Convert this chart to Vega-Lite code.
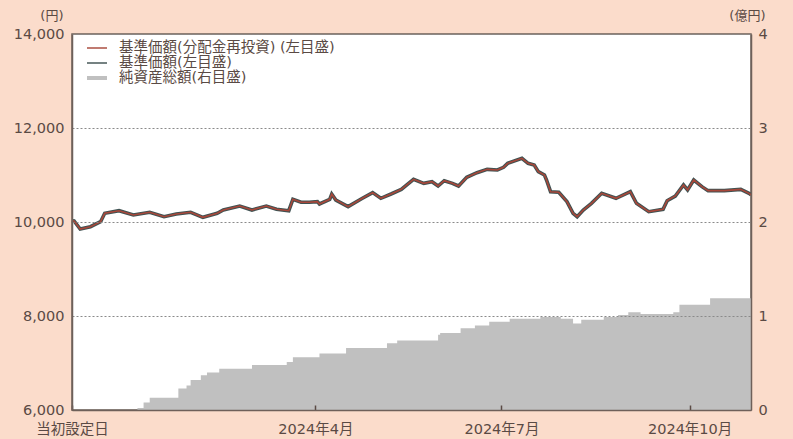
{
  "$schema": "https://vega.github.io/schema/vega-lite/v6.json",
  "width": 679,
  "height": 376,
  "autosize": {"type": "none"},
  "padding": {"left": 72, "top": 34, "right": 42, "bottom": 29},
  "background": "#fbdccb",
  "config": {
    "font": "DejaVu Sans, Noto Sans CJK JP",
    "view": {"fill": "#ffffff", "stroke": "#6e605a", "strokeWidth": 1.5},
    "axis": {
      "labelColor": "#5a4a44",
      "labelFontSize": 14.5,
      "labelFont": "DejaVu Sans, Noto Sans CJK JP",
      "titleColor": "#5a4a44",
      "titleFontSize": 13,
      "titleFont": "DejaVu Sans, Noto Sans CJK JP",
      "titleFontWeight": "normal",
      "domainColor": "#6e605a",
      "domainWidth": 1.5,
      "tickColor": "#5a4a44"
    }
  },
  "datasets": {
    "nav": [
      {"date": "2023-12-04", "nav": 10028},
      {"date": "2023-12-05", "nav": 10021},
      {"date": "2023-12-08", "nav": 9851},
      {"date": "2023-12-13", "nav": 9900},
      {"date": "2023-12-18", "nav": 10007},
      {"date": "2023-12-20", "nav": 10185},
      {"date": "2023-12-27", "nav": 10240},
      {"date": "2024-01-03", "nav": 10149},
      {"date": "2024-01-11", "nav": 10206},
      {"date": "2024-01-18", "nav": 10113},
      {"date": "2024-01-24", "nav": 10170},
      {"date": "2024-01-31", "nav": 10206},
      {"date": "2024-02-06", "nav": 10100},
      {"date": "2024-02-13", "nav": 10185},
      {"date": "2024-02-16", "nav": 10255},
      {"date": "2024-02-24", "nav": 10340},
      {"date": "2024-03-01", "nav": 10255},
      {"date": "2024-03-08", "nav": 10340},
      {"date": "2024-03-13", "nav": 10270},
      {"date": "2024-03-19", "nav": 10240},
      {"date": "2024-03-21", "nav": 10483},
      {"date": "2024-03-25", "nav": 10419},
      {"date": "2024-03-29", "nav": 10419},
      {"date": "2024-04-02", "nav": 10433},
      {"date": "2024-04-03", "nav": 10383},
      {"date": "2024-04-08", "nav": 10483},
      {"date": "2024-04-09", "nav": 10596},
      {"date": "2024-04-11", "nav": 10468},
      {"date": "2024-04-17", "nav": 10326},
      {"date": "2024-04-24", "nav": 10504},
      {"date": "2024-04-29", "nav": 10625},
      {"date": "2024-05-03", "nav": 10504},
      {"date": "2024-05-08", "nav": 10596},
      {"date": "2024-05-13", "nav": 10695},
      {"date": "2024-05-19", "nav": 10908},
      {"date": "2024-05-24", "nav": 10823},
      {"date": "2024-05-28", "nav": 10858},
      {"date": "2024-05-31", "nav": 10766},
      {"date": "2024-06-03", "nav": 10879},
      {"date": "2024-06-07", "nav": 10823},
      {"date": "2024-06-10", "nav": 10766},
      {"date": "2024-06-14", "nav": 10950},
      {"date": "2024-06-19", "nav": 11049},
      {"date": "2024-06-24", "nav": 11120},
      {"date": "2024-06-29", "nav": 11106},
      {"date": "2024-07-02", "nav": 11163},
      {"date": "2024-07-04", "nav": 11248},
      {"date": "2024-07-11", "nav": 11355},
      {"date": "2024-07-14", "nav": 11248},
      {"date": "2024-07-17", "nav": 11213},
      {"date": "2024-07-19", "nav": 11071},
      {"date": "2024-07-22", "nav": 11000},
      {"date": "2024-07-23", "nav": 10894},
      {"date": "2024-07-25", "nav": 10645},
      {"date": "2024-07-29", "nav": 10632},
      {"date": "2024-08-02", "nav": 10433},
      {"date": "2024-08-05", "nav": 10185},
      {"date": "2024-08-07", "nav": 10113},
      {"date": "2024-08-10", "nav": 10255},
      {"date": "2024-08-14", "nav": 10397},
      {"date": "2024-08-19", "nav": 10610},
      {"date": "2024-08-26", "nav": 10504},
      {"date": "2024-09-02", "nav": 10645},
      {"date": "2024-09-05", "nav": 10397},
      {"date": "2024-09-11", "nav": 10220},
      {"date": "2024-09-18", "nav": 10270},
      {"date": "2024-09-20", "nav": 10454},
      {"date": "2024-09-24", "nav": 10553},
      {"date": "2024-09-28", "nav": 10787},
      {"date": "2024-09-30", "nav": 10681},
      {"date": "2024-10-03", "nav": 10894},
      {"date": "2024-10-07", "nav": 10752},
      {"date": "2024-10-10", "nav": 10667},
      {"date": "2024-10-18", "nav": 10667},
      {"date": "2024-10-26", "nav": 10695},
      {"date": "2024-10-30", "nav": 10610},
      {"date": "2024-10-31", "nav": 10580}
    ],
    "assets": [
      {"date": "2023-12-04", "assets": 0},
      {"date": "2024-01-05", "assets": 0.02},
      {"date": "2024-01-08", "assets": 0.08},
      {"date": "2024-01-11", "assets": 0.13},
      {"date": "2024-01-25", "assets": 0.23},
      {"date": "2024-01-29", "assets": 0.26},
      {"date": "2024-01-31", "assets": 0.32},
      {"date": "2024-02-05", "assets": 0.37},
      {"date": "2024-02-08", "assets": 0.40},
      {"date": "2024-02-14", "assets": 0.44},
      {"date": "2024-03-01", "assets": 0.48},
      {"date": "2024-03-18", "assets": 0.51},
      {"date": "2024-03-21", "assets": 0.56},
      {"date": "2024-04-03", "assets": 0.60},
      {"date": "2024-04-16", "assets": 0.66},
      {"date": "2024-05-06", "assets": 0.71},
      {"date": "2024-05-11", "assets": 0.74},
      {"date": "2024-05-31", "assets": 0.80},
      {"date": "2024-06-01", "assets": 0.82},
      {"date": "2024-06-11", "assets": 0.87},
      {"date": "2024-06-18", "assets": 0.90},
      {"date": "2024-06-25", "assets": 0.94},
      {"date": "2024-07-05", "assets": 0.97},
      {"date": "2024-07-20", "assets": 0.99},
      {"date": "2024-07-30", "assets": 0.97},
      {"date": "2024-08-05", "assets": 0.92},
      {"date": "2024-08-09", "assets": 0.96},
      {"date": "2024-08-20", "assets": 0.99},
      {"date": "2024-08-27", "assets": 1.01},
      {"date": "2024-09-01", "assets": 1.04},
      {"date": "2024-09-07", "assets": 1.02},
      {"date": "2024-09-23", "assets": 1.04},
      {"date": "2024-09-26", "assets": 1.12},
      {"date": "2024-10-11", "assets": 1.19},
      {"date": "2024-10-31", "assets": 1.19}
    ]
  },
  "layer": [
    {
      "data": {"name": "assets"},
      "mark": {"type": "area", "interpolate": "step-after", "opacity": 1},
      "encoding": {
        "x": {
          "field": "date",
          "type": "temporal",
          "scale": {"type": "utc", "domain": [{"year": 2023, "month": 12, "date": 4, "utc": true}, {"year": 2024, "month": 10, "date": 31, "utc": true}]},
          "axis": {
            "title": null,
            "zindex": 1,
            "grid": false,
            "values": [
              {"year": 2023, "month": 12, "date": 4, "utc": true},
              {"year": 2024, "month": 4, "date": 1, "utc": true},
              {"year": 2024, "month": 7, "date": 1, "utc": true},
              {"year": 2024, "month": 10, "date": 1, "utc": true}
            ],
            "labelExpr": "utcmonth(datum.value) == 11 ? '当初設定日' : utcFormat(datum.value, '%Y年%-m月')",
            "tickSize": -5,
            "tickWidth": 1.5,
            "labelPadding": 17,
            "labelFlush": false,
            "labelOverlap": false,
            "labelBound": false
          }
        },
        "y": {
          "field": "assets",
          "type": "quantitative",
          "scale": {"domain": [0, 4]},
          "axis": {
            "orient": "right",
            "zindex": 1,
            "values": [0, 1, 2, 3, 4],
            "grid": false,
            "ticks": false,
            "labelPadding": 7,
            "title": "(億円)",
            "titleAngle": 0,
            "titleAlign": "right",
            "titleBaseline": "middle",
            "titleX": 14,
            "titleY": -19
          }
        },
        "color": {
          "datum": "純資産総額(右目盛)",
          "scale": {
            "domain": ["基準価額(分配金再投資) (左目盛)", "基準価額(左目盛)", "純資産総額(右目盛)"],
            "range": ["#a8473a", "#3f5252", "#c0c0c0"]
          },
          "legend": {
            "title": null,
            "orient": "none",
            "legendX": 17,
            "legendY": 6,
            "direction": "vertical",
            "labelFontSize": 14.5,
            "labelFont": "DejaVu Sans, Noto Sans CJK JP",
            "labelColor": "#5a4a44",
            "labelLimit": 500,
            "symbolSize": 256,
            "symbolType": {"expr": "datum.value === '純資産総額(右目盛)' ? 'M-1.25,-0.25H1.25V0.25H-1.25Z' : 'M-1.25,-0.09H1.25V0.09H-1.25Z'"},
            "symbolStrokeWidth": 0,
            "symbolOpacity": 1,
            "rowPadding": 0,
            "labelOffset": 14
          }
        }
      }
    },
    {
      "data": {"name": "nav"},
      "mark": {"type": "line", "strokeWidth": 3.6},
      "encoding": {
        "x": {"field": "date", "type": "temporal"},
        "y": {
          "field": "nav",
          "type": "quantitative",
          "scale": {"domain": [6000, 14000]},
          "axis": {
            "orient": "left",
            "zindex": 1,
            "values": [6000, 8000, 10000, 12000, 14000],
            "format": ",d",
            "grid": true,
            "gridDash": [2, 2],
            "gridColor": "#8a8a8a",
            "gridWidth": 1,
            "ticks": false,
            "labelPadding": 8,
            "title": "(円)",
            "titleAngle": 0,
            "titleAlign": "right",
            "titleBaseline": "middle",
            "titleX": -9,
            "titleY": -19
          }
        },
        "color": {"datum": "基準価額(左目盛)"}
      }
    },
    {
      "data": {"name": "nav"},
      "mark": {"type": "line", "strokeWidth": 1.6},
      "encoding": {
        "x": {"field": "date", "type": "temporal"},
        "y": {
          "field": "nav",
          "type": "quantitative",
          "scale": {"domain": [6000, 14000]},
          "axis": null
        },
        "color": {"datum": "基準価額(分配金再投資) (左目盛)"}
      }
    }
  ],
  "resolve": {"scale": {"y": "independent"}}
}
